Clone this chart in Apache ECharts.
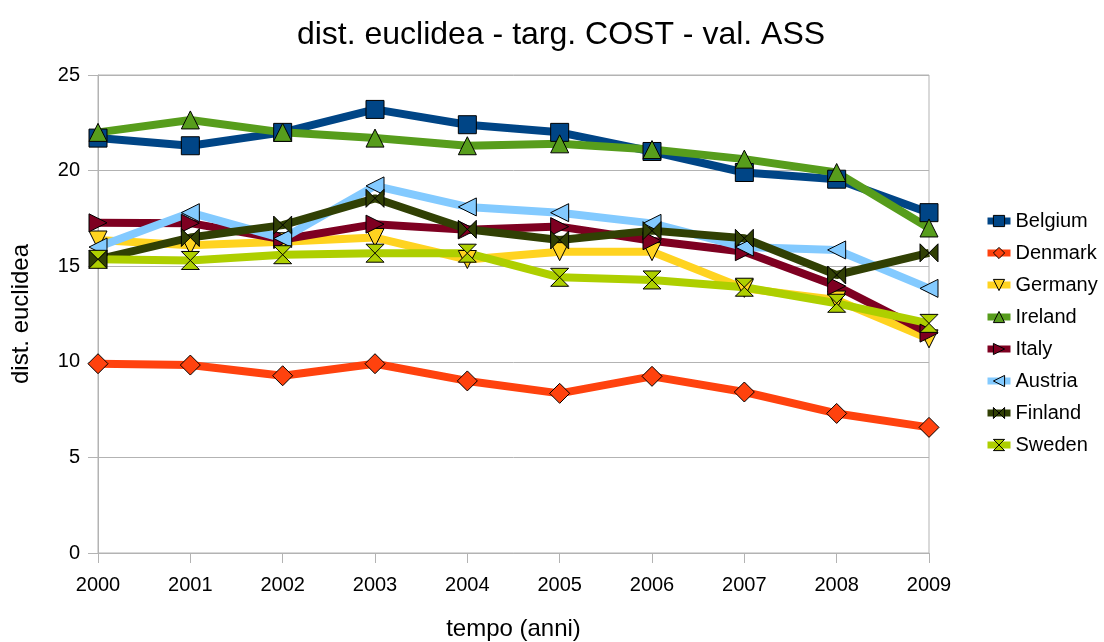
<!DOCTYPE html>
<html>
<head>
<meta charset="utf-8">
<script src="https://cdn.jsdelivr.net/npm/echarts@6/dist/echarts.min.js"></script>
<style>
html,body{margin:0;padding:0;background:#fff;}
#main{width:1104px;height:642px;}
</style>
</head>
<body>
<div id="main"></div>
<script>
const years = ['2000','2001','2002','2003','2004','2005','2006','2007','2008','2009'];
const belgium = [21.7, 21.3, 22.0, 23.2, 22.4, 22.0, 21.0, 19.9, 19.55, 17.8];
const denmark = [9.9, 9.83, 9.27, 9.9, 9.0, 8.35, 9.24, 8.42, 7.3, 6.57];
const germany = [16.37, 16.1, 16.28, 16.5, 15.35, 15.76, 15.76, 13.84, 13.23, 11.2];
const ireland = [22.0, 22.65, 22.0, 21.7, 21.3, 21.4, 21.1, 20.6, 19.9, 17.0];
const italy = [17.27, 17.25, 16.4, 17.2, 16.9, 17.07, 16.33, 15.76, 13.96, 11.5];
const austria = [16.0, 17.8, 16.45, 19.2, 18.1, 17.8, 17.24, 16.0, 15.85, 13.84];
const finland = [15.36, 16.5, 17.15, 18.55, 16.93, 16.37, 16.86, 16.46, 14.54, 15.7];
const sweden = [15.36, 15.3, 15.6, 15.68, 15.68, 14.42, 14.28, 13.9, 13.06, 12.01];
const yTicks = [0, 5, 10, 15, 20, 25];

const FONT = '"Liberation Sans", Arial, sans-serif';
const defs = [
  {name:'Belgium', data:belgium, color:'#004586', symbol:'rect', size:18},
  {name:'Denmark', data:denmark, color:'#ff420e', symbol:'diamond', size:20},
  {name:'Germany', data:germany, color:'#ffd320', symbol:'path://M0,0 L10,0 L5,10 Z', size:18},
  {name:'Ireland', data:ireland, color:'#579d1c', symbol:'path://M5,0 L10,10 L0,10 Z', size:18},
  {name:'Italy', data:italy, color:'#7e0021', symbol:'path://M0,0 L10,5 L0,10 Z', size:18},
  {name:'Austria', data:austria, color:'#83caff', symbol:'path://M10,0 L0,5 L10,10 Z', size:18},
  {name:'Finland', data:finland, color:'#314004', symbol:'path://M0,0 L10,10 L10,0 L0,10 Z', size:18},
  {name:'Sweden', data:sweden, color:'#aecf00', symbol:'path://M0,0 L10,0 L0,10 L10,10 Z', size:18}
];

const chart = echarts.init(document.getElementById('main'), null, {renderer:'canvas'});
chart.setOption({
  animation:false,
  backgroundColor:'#fff',
  textStyle:{fontFamily:FONT},
  title:{
    text:'dist. euclidea - targ. COST - val. ASS',
    left:556, textAlign:'center', top:14,
    textStyle:{fontFamily:FONT, fontSize:32, fontWeight:'normal', color:'#000'}
  },
  legend:{
    orient:'vertical', left:984, top:211, padding:0,
    itemWidth:23, itemHeight:14, itemGap:12,
    lineStyle:{width:7},
    itemStyle:{borderColor:'#000', borderWidth:1},
    textStyle:{fontFamily:FONT, fontSize:20, color:'#000'},
    data:defs.map(d=>d.name)
  },
  grid:{left:98, right:175, top:75, bottom:89, containLabel:false, outerBoundsMode:'none',
    show:true, borderColor:'#b3b3b3', borderWidth:1},
  xAxis:{
    type:'category', data:years, boundaryGap:false,
    name:'tempo (anni)', nameLocation:'middle', nameGap:64,
    nameTextStyle:{fontFamily:FONT, fontSize:24, color:'#000'},
    axisLine:{lineStyle:{color:'#b3b3b3', width:1}},
    axisTick:{show:true, length:10, alignWithLabel:true, lineStyle:{color:'#b3b3b3'}},
    axisLabel:{fontFamily:FONT, fontSize:20, color:'#000', margin:22},
    splitLine:{show:false}
  },
  yAxis:{
    type:'value', min:0, max:25, interval:5,
    name:'dist. euclidea', nameLocation:'middle', nameGap:65,
    nameTextStyle:{fontFamily:FONT, fontSize:24, color:'#000'},
    axisLine:{show:true, lineStyle:{color:'#b3b3b3', width:1}},
    axisTick:{show:true, length:10, lineStyle:{color:'#b3b3b3'}},
    axisLabel:{fontFamily:FONT, fontSize:20, color:'#000', margin:18,
      formatter:v=>yTicks.includes(v)?String(v):''},
    splitLine:{show:true, lineStyle:{color:'#b3b3b3', width:1}}
  },
  series:defs.map(d=>({
    name:d.name, type:'line', data:d.data,
    symbol:d.symbol, symbolSize:d.size, showAllSymbol:true,
    lineStyle:{color:d.color, width:8},
    itemStyle:{color:d.color, borderColor:'#000', borderWidth:1, opacity:1},
    emphasis:{disabled:true}
  }))
});
</script>
</body>
</html>
